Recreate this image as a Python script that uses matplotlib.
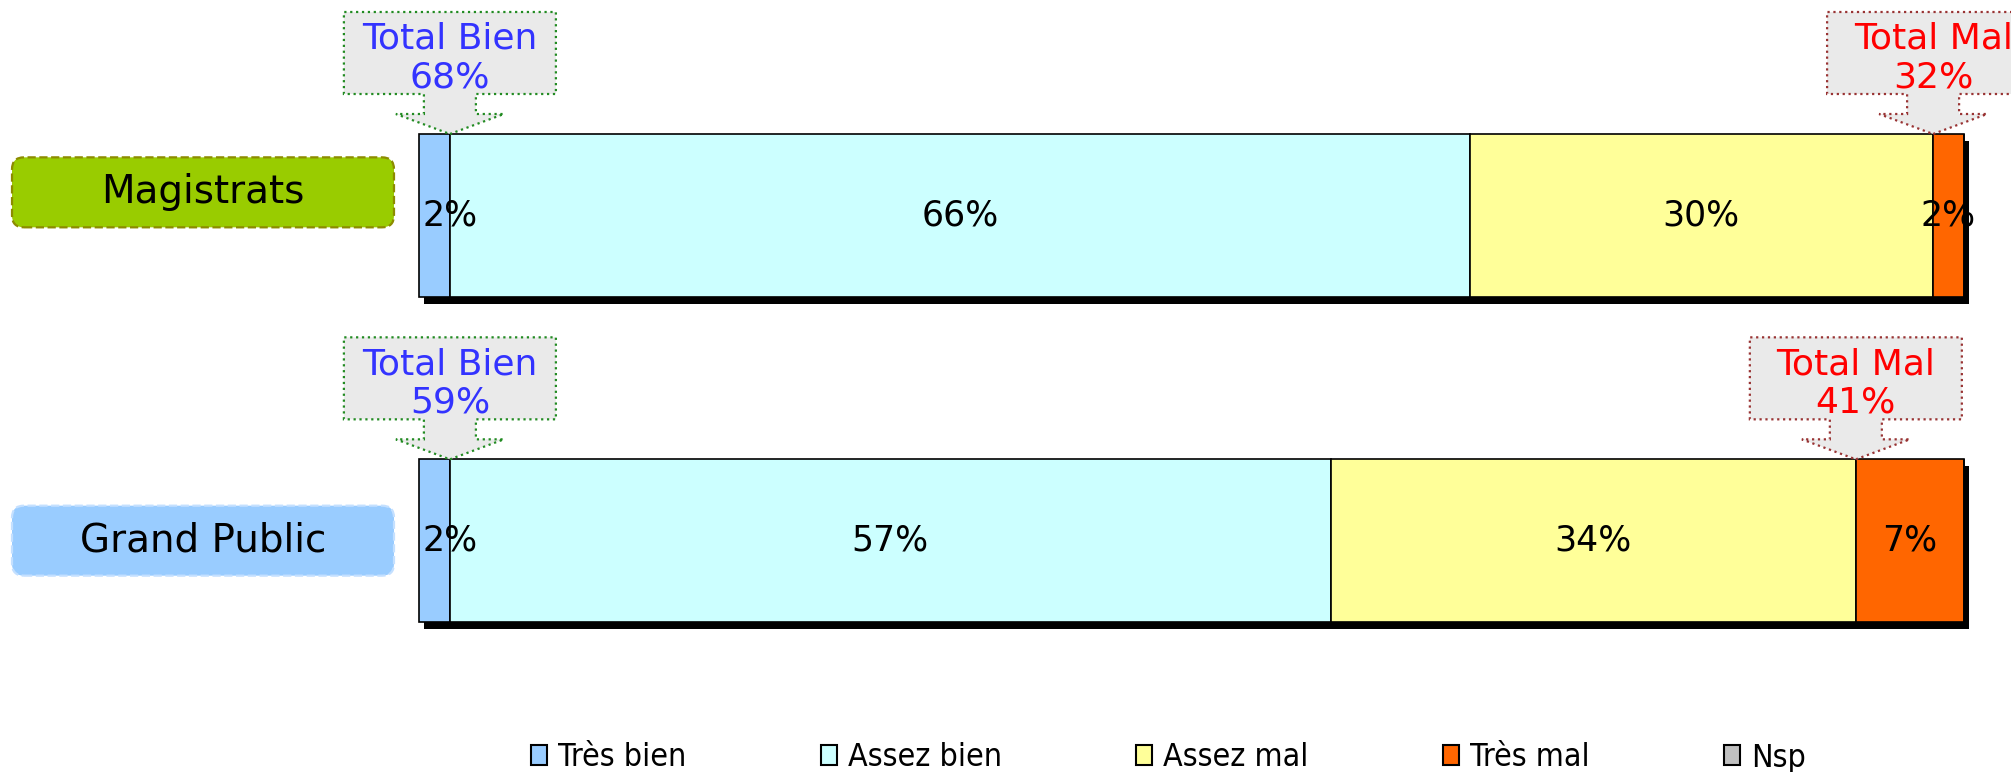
import matplotlib
matplotlib.use("Agg")
import matplotlib.pyplot as plt
import matplotlib.transforms as mtransforms
from matplotlib.patches import Polygon, FancyBboxPatch, Patch
from matplotlib import font_manager

# -----------------------------------------------------------------
# data

groups = ["Magistrats", "Grand Public"]
categories = ["Très bien", "Assez bien", "Assez mal", "Très mal", "Nsp"]
tres_bien = [2, 2]
assez_bien = [66, 57]
assez_mal = [30, 34]
tres_mal = [2, 7]
nsp = [0, 0]
total_bien = [68, 59]
total_mal = [32, 41]

colors = ["#99CCFF", "#CCFFFF", "#FFFF99", "#FF6600", "#C0C0C0"]
group_fill = ["#99CC00", "#99CCFF"]
group_edge = ["#8C8C00", "#C4E0FF"]
label_dy = [-23, 0]          # vertical shift of the group label boxes, in pixels

# -----------------------------------------------------------------

W, H, DPI = 2011, 772, 100
fig = plt.figure(figsize=(W / DPI, H / DPI), dpi=DPI)
ax = fig.add_axes([419 / W, 1 - 622 / H, 1545 / W, 488 / H])
ax.set_xlim(0, 100)
ax.set_ylim(1.25, -0.25)
ax.axis("off")

series = [tres_bien, assez_bien, assez_mal, tres_mal, nsp]
ypos = list(range(len(groups)))
barh = 0.5

# shadow behind each bar
shadow = mtransforms.offset_copy(ax.transData, fig=fig, x=5, y=-7, units="dots")
sh = ax.barh(ypos, [sum(s[i] for s in series) for i in ypos], height=barh,
             color="black", transform=shadow, zorder=1)
for p in sh:
    p.set_clip_on(False)

# stacked segments with labels
left = [0] * len(groups)
for vals, col in zip(series, colors):
    bars = ax.barh(ypos, vals, left=left, height=barh, color=col,
                   edgecolor="black", linewidth=1.2, zorder=2)
    for p in bars:
        p.set_clip_on(False)
    for i, v in enumerate(vals):
        if v == 0:
            continue
        if left[i] == 0 and v < 5:
            ax.text(left[i] + 0.2, ypos[i], f"{v}%", ha="left", va="center",
                    fontsize=25, zorder=3)
        else:
            ax.text(left[i] + v / 2, ypos[i], f"{v}%", ha="center", va="center",
                    fontsize=25, zorder=3)
    left = [l + v for l, v in zip(left, vals)]

# callouts above the bars
ident = mtransforms.IdentityTransform()

def callout(x, y, text, tcolor, ecolor):
    tx, ty = ax.transData.transform((x, y))
    bw, sw, hw = 212, 52, 108
    hh, sh, bh = 20, 20, 82
    base = ty + hh + sh
    top = base + bh
    verts = [(tx, ty), (tx + hw / 2, ty + hh), (tx + sw / 2, ty + hh),
             (tx + sw / 2, base), (tx + bw / 2, base), (tx + bw / 2, top),
             (tx - bw / 2, top), (tx - bw / 2, base), (tx - sw / 2, base),
             (tx - sw / 2, ty + hh), (tx - hw / 2, ty + hh)]
    fig.add_artist(Polygon(verts, closed=True, transform=ident, facecolor="#EAEAEA",
                           edgecolor=ecolor, linestyle=":", linewidth=1.6, zorder=4))
    fig.text(tx, base + bh / 2 - 5, text, transform=ident, ha="center", va="center",
             fontsize=26, color=tcolor, linespacing=1.15, zorder=5)

for i in ypos:
    callout(tres_bien[i], ypos[i] - barh / 2, f"Total Bien\n{total_bien[i]}%", "#3333FF", "#228B22")
    callout(100 - tres_mal[i], ypos[i] - barh / 2, f"Total Mal\n{total_mal[i]}%", "#FF0000", "#993333")

# group label boxes on the left
for i, name in enumerate(groups):
    _, cy = ax.transData.transform((0, ypos[i]))
    cy -= label_dy[i]
    fig.add_artist(FancyBboxPatch((12, cy - 35), 382, 70, transform=ident,
                                  boxstyle="round,pad=0,rounding_size=12",
                                  facecolor=group_fill[i], edgecolor=group_edge[i],
                                  linestyle="--", linewidth=1.6))
    fig.text(203, cy, name, transform=ident, ha="center", va="center", fontsize=28)

# legend (narrow face if one is installed)
lprop = {"family": "DejaVu Sans", "size": 21}
for f in font_manager.fontManager.ttflist:
    if f.name == "DejaVu Sans" and f.stretch == "condensed" and f.weight in (400, "normal"):
        lprop = {"family": "DejaVu Sans", "stretch": "condensed", "size": 23}
        break
    if f.name == "Liberation Sans Narrow":
        lprop = {"family": "Liberation Sans Narrow", "size": 25}
handles = [Patch(facecolor=c, edgecolor="black", linewidth=1.5) for c in colors]
fig.legend(handles, categories, loc="center", bbox_to_anchor=(0.581, 14 / H), ncol=5,
           frameon=False, handlelength=0.5, handleheight=0.6, handletextpad=0.35,
           columnspacing=4.2, prop=lprop)

fig.savefig("out.png", dpi=DPI)
